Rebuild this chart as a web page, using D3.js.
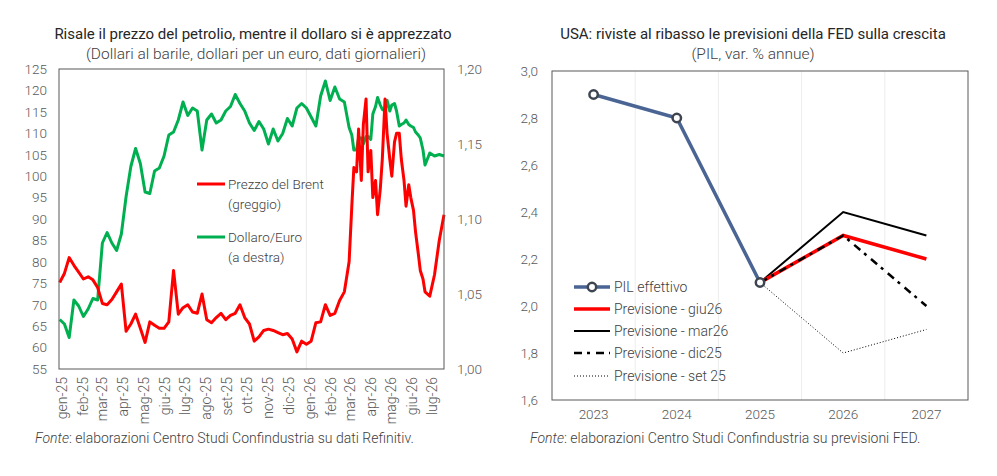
<!DOCTYPE html>
<html>
<head>
<meta charset="utf-8">
<script src="https://cdn.jsdelivr.net/npm/d3@7"></script>
<style>
  body { margin: 0; background: #fff; }
  svg text { font-family: Roboto, "Noto Sans", sans-serif; }
</style>
</head>
<body>
<svg id="chart" width="997" height="476"></svg>
<script>
// ---- left chart data ----
var dates = [
  "2025-01-02","2025-01-09","2025-01-16","2025-01-23","2025-01-30","2025-02-06","2025-02-13","2025-02-20","2025-02-27",
  "2025-03-06","2025-03-13","2025-03-20","2025-03-27","2025-04-03","2025-04-10","2025-04-17","2025-04-24",
  "2025-05-01","2025-05-08","2025-05-15","2025-05-22","2025-05-29","2025-06-05","2025-06-12","2025-06-19","2025-06-26",
  "2025-07-03","2025-07-10","2025-07-17","2025-07-24","2025-07-31","2025-08-07","2025-08-14","2025-08-21","2025-08-28",
  "2025-09-04","2025-09-11","2025-09-18","2025-09-25","2025-10-02","2025-10-09","2025-10-16","2025-10-23","2025-10-30",
  "2025-11-06","2025-11-13","2025-11-20","2025-11-27","2025-12-04","2025-12-11","2025-12-18","2025-12-25",
  "2026-01-01","2026-01-08","2026-01-15","2026-01-22","2026-01-29","2026-02-05","2026-02-12","2026-02-19","2026-02-26",
  "2026-03-05","2026-03-09","2026-03-12","2026-03-16","2026-03-19","2026-03-23","2026-03-26","2026-03-30",
  "2026-04-02","2026-04-06","2026-04-09","2026-04-13","2026-04-16","2026-04-20","2026-04-23","2026-04-27","2026-04-30",
  "2026-05-04","2026-05-07","2026-05-11","2026-05-14","2026-05-18","2026-05-21","2026-05-25","2026-05-28",
  "2026-06-01","2026-06-04","2026-06-08","2026-06-11","2026-06-15","2026-06-18","2026-06-22","2026-06-25",
  "2026-07-02","2026-07-09","2026-07-16","2026-07-23"
];
var brent = [
  75.2,77.3,81.0,79.2,77.6,76.0,76.5,75.8,74.0,
  70.3,70.0,71.2,73.0,74.8,63.8,65.5,67.8,
  64.5,61.2,66.0,65.2,64.5,64.5,66.0,78.0,67.8,
  69.3,70.0,68.3,68.0,72.5,66.5,65.8,67.0,68.0,
  66.5,67.5,68.0,70.0,67.0,65.5,61.5,62.5,64.0,
  64.3,64.0,63.5,63.0,63.3,62.0,59.0,61.5,
  60.8,61.5,65.8,66.0,70.0,67.5,68.0,71.0,73.0,
  80,93,102,101,111,99,112,118,
  101,106,95,99,91,97,104,118,110,
  104,100,108,110,110,104,99,93,
  98,95,92,87,82,78,76,73,
  72,77,85,91
];
var dollaroEuro = [
  1.033,1.030,1.021,1.046,1.042,1.035,1.040,1.047,1.046,
  1.084,1.091,1.084,1.079,1.090,1.115,1.135,1.147,
  1.137,1.118,1.117,1.132,1.134,1.142,1.156,1.158,1.166,
  1.178,1.169,1.174,1.172,1.146,1.166,1.170,1.164,1.166,
  1.172,1.175,1.183,1.177,1.172,1.164,1.159,1.165,1.160,
  1.150,1.160,1.152,1.157,1.167,1.162,1.174,1.177,
  1.174,1.168,1.162,1.182,1.192,1.179,1.188,1.180,1.178,
  1.161,1.156,1.146,1.146,1.154,1.154,1.150,1.155,
  1.155,1.153,1.170,1.175,1.181,1.176,1.173,1.172,1.179,
  1.172,1.176,1.177,1.172,1.162,1.163,1.164,1.166,
  1.163,1.162,1.161,1.158,1.156,1.154,1.146,1.136,
  1.144,1.142,1.143,1.142
];
var mesi = ["gen","feb","mar","apr","mag","giu","lug","ago","set","ott","nov","dic"];

// ---- right chart data ----
var anni = ["2023","2024","2025","2026","2027"];
var pilEffettivo = [2.9, 2.8, 2.1, null, null];
var prevGiu26 = [null, null, 2.1, 2.3, 2.2];
var prevMar26 = [null, null, 2.1, 2.4, 2.3];
var prevDic25 = [null, null, 2.1, 2.3, 2.0];
var prevSet25 = [null, null, 2.1, 1.8, 1.9];

var grey = "#595959", dark = "#404040";
var svg = d3.select("#chart");
svg.append("rect").attr("width", 997).attr("height", 476).attr("fill", "#fff");

var parse = d3.timeParse("%Y-%m-%d");
var giorni = dates.map(parse);

// ================= LEFT CHART =================
var L = {left: 59, right: 444, top: 69, bottom: 369};

var x = d3.scaleTime()
  .domain([new Date(2025, 0, 1), new Date(2026, 6, 23)])
  .range([L.left, L.right]);
var y = d3.scaleLinear().domain([55, 125]).range([L.bottom, L.top]);
var y2 = d3.scaleLinear().domain([1.0, 1.2]).range([L.bottom, L.top]);

svg.append("text").attr("x", 253).attr("y", 39).attr("text-anchor", "middle")
  .attr("font-size", 15).attr("fill", "#262626")
  .text("Risale il prezzo del petrolio, mentre il dollaro si è apprezzato");
svg.append("text").attr("x", 256).attr("y", 59).attr("text-anchor", "middle")
  .attr("font-size", 15.5).attr("font-weight", 300).attr("fill", dark)
  .text("(Dollari al barile, dollari per un euro, dati giornalieri)");

// faint line at the year change
svg.append("line")
  .attr("x1", x(new Date(2026, 0, 1))).attr("x2", x(new Date(2026, 0, 1)))
  .attr("y1", L.top).attr("y2", L.bottom)
  .attr("stroke", "#ebebeb").attr("stroke-width", 1);

var axL = svg.append("g").attr("transform", "translate(" + L.left + ",0)")
  .call(d3.axisLeft(y).tickValues(d3.range(55, 126, 5)).tickSize(0).tickPadding(12));
var axR = svg.append("g").attr("transform", "translate(" + L.right + ",0)")
  .call(d3.axisRight(y2).tickValues([1.0, 1.05, 1.1, 1.15, 1.2]).tickSize(0).tickPadding(13)
    .tickFormat(function(d) { return d3.format(".2f")(d).replace(".", ","); }));
var axB = svg.append("g").attr("transform", "translate(0," + L.bottom + ")")
  .call(d3.axisBottom(x).ticks(d3.timeMonth.every(1)).tickSize(0)
    .tickFormat(function(d) { return mesi[d.getMonth()] + "-" + String(d.getFullYear()).slice(2); }));

[axL, axR, axB].forEach(function(a) {
  a.select(".domain").remove();
  a.selectAll("text").attr("font-size", 13.5).attr("font-weight", 300).attr("fill", grey)
    .attr("font-family", "Roboto, sans-serif");
});
axB.selectAll("text")
  .attr("font-size", 14)
  .attr("transform", "rotate(-90)")
  .attr("x", -8).attr("y", 3).attr("dy", "0.35em")
  .style("text-anchor", "end");

var lineUsd = d3.line()
  .x(function(d, i) { return x(giorni[i]); })
  .y(function(d) { return y2(d); });
var lineBrent = d3.line()
  .x(function(d, i) { return x(giorni[i]); })
  .y(function(d) { return y(d); });

svg.append("path").datum(dollaroEuro).attr("d", lineUsd)
  .attr("fill", "none").attr("stroke", "#00B050").attr("stroke-width", 3).attr("stroke-linejoin", "round");
svg.append("path").datum(brent).attr("d", lineBrent)
  .attr("fill", "none").attr("stroke", "#FF0000").attr("stroke-width", 3).attr("stroke-linejoin", "round");

svg.append("rect").attr("x", L.left).attr("y", L.top)
  .attr("width", L.right - L.left).attr("height", L.bottom - L.top)
  .attr("fill", "none").attr("stroke", grey).attr("stroke-width", 1);

// legend
var legL = [
  {c: "#FF0000", t1: "Prezzo del Brent", t2: "(greggio)", y: 184},
  {c: "#00B050", t1: "Dollaro/Euro", t2: "(a destra)", y: 237}
];
legL.forEach(function(l) {
  svg.append("line").attr("x1", 197).attr("x2", 225).attr("y1", l.y).attr("y2", l.y)
    .attr("stroke", l.c).attr("stroke-width", 3);
  svg.append("text").attr("x", 228).attr("y", l.y).attr("dy", "0.35em")
    .attr("font-size", 13.5).attr("font-weight", 300).attr("fill", dark).text(l.t1);
  svg.append("text").attr("x", 228).attr("y", l.y + 20).attr("dy", "0.35em")
    .attr("font-size", 13.5).attr("font-weight", 300).attr("fill", dark).text(l.t2);
});

var f1 = svg.append("text").attr("x", 35).attr("y", 443)
  .attr("font-size", 14).attr("font-weight", 300).attr("fill", dark);
f1.append("tspan").attr("font-style", "italic").text("Fonte");
f1.append("tspan").text(": elaborazioni Centro Studi Confindustria su dati Refinitiv.");

// ================= RIGHT CHART =================
var R = {left: 552, right: 968, top: 71, bottom: 400};
var xb = d3.scaleBand().domain(anni).range([R.left, R.right]).padding(0);
var yg = d3.scaleLinear().domain([1.6, 3.0]).range([R.bottom, R.top]);
var cx = function(i) { return xb(anni[i]) + xb.bandwidth() / 2; };

svg.append("text").attr("x", 753).attr("y", 39).attr("text-anchor", "middle")
  .attr("font-size", 15).attr("fill", "#262626")
  .text("USA: riviste al ribasso le previsioni della FED sulla crescita");
svg.append("text").attr("x", 753).attr("y", 59).attr("text-anchor", "middle")
  .attr("font-size", 15.5).attr("font-weight", 300).attr("fill", dark)
  .text("(PIL, var. % annue)");

svg.append("g").selectAll("line").data(anni.slice(1)).enter().append("line")
  .attr("x1", function(d) { return xb(d); }).attr("x2", function(d) { return xb(d); })
  .attr("y1", R.top).attr("y2", R.bottom)
  .attr("stroke", "#ededed").attr("stroke-width", 1);

var ayG = svg.append("g").attr("transform", "translate(" + R.left + ",0)")
  .call(d3.axisLeft(yg).tickValues(d3.range(1.6, 3.01, 0.2)).tickSize(0).tickPadding(14)
    .tickFormat(function(d) { return d3.format(".1f")(d).replace(".", ","); }));
var axG = svg.append("g").attr("transform", "translate(0," + R.bottom + ")")
  .call(d3.axisBottom(xb).tickSize(0).tickPadding(9));
[ayG, axG].forEach(function(a) {
  a.select(".domain").remove();
  a.selectAll("text").attr("font-size", 13.5).attr("font-weight", 300).attr("fill", grey)
    .attr("font-family", "Roboto, sans-serif");
});

var lineG = d3.line()
  .defined(function(d) { return d != null; })
  .x(function(d, i) { return cx(i); })
  .y(function(d) { return yg(d); });

var serie = [
  {v: prevSet25, c: "#000", w: 1, dash: "1,2"},
  {v: prevMar26, c: "#000", w: 2, dash: null},
  {v: prevGiu26, c: "#FF0000", w: 3.5, dash: null},
  {v: prevDic25, c: "#000", w: 2.5, dash: "8,5,3,6"}
];
serie.forEach(function(s) {
  svg.append("path").datum(s.v).attr("d", lineG)
    .attr("fill", "none").attr("stroke", s.c).attr("stroke-width", s.w)
    .attr("stroke-dasharray", s.dash);
});
svg.append("path").datum(pilEffettivo).attr("d", lineG)
  .attr("fill", "none").attr("stroke", "#4A6594").attr("stroke-width", 3.5);
svg.append("g").selectAll("circle")
  .data(pilEffettivo.map(function(v, i) { return {v: v, i: i}; }).filter(function(d) { return d.v != null; }))
  .enter().append("circle")
  .attr("cx", function(d) { return cx(d.i); }).attr("cy", function(d) { return yg(d.v); })
  .attr("r", 4.2).attr("fill", "#fff").attr("stroke", "#3f4550").attr("stroke-width", 2.5);

svg.append("rect").attr("x", R.left).attr("y", R.top)
  .attr("width", R.right - R.left).attr("height", R.bottom - R.top)
  .attr("fill", "none").attr("stroke", grey).attr("stroke-width", 1);

// legend
var legR = [
  {c: "#4A6594", w: 3.5, dash: null, t: "PIL effettivo", y: 287, marker: true},
  {c: "#FF0000", w: 3.5, dash: null, t: "Previsione - giu26", y: 309},
  {c: "#000", w: 2, dash: null, t: "Previsione - mar26", y: 331},
  {c: "#000", w: 2.5, dash: "8,5,3,6", t: "Previsione - dic25", y: 353},
  {c: "#000", w: 1, dash: "1,2", t: "Previsione - set 25", y: 376}
];
legR.forEach(function(l) {
  svg.append("line").attr("x1", 574).attr("x2", 610).attr("y1", l.y).attr("y2", l.y)
    .attr("stroke", l.c).attr("stroke-width", l.w).attr("stroke-dasharray", l.dash);
  if (l.marker) {
    svg.append("circle").attr("cx", 592).attr("cy", l.y).attr("r", 4.2)
      .attr("fill", "#fff").attr("stroke", "#3f4550").attr("stroke-width", 2.5);
  }
  svg.append("text").attr("x", 614).attr("y", l.y).attr("dy", "0.35em")
    .attr("font-size", 14).attr("font-weight", 300).attr("fill", dark).text(l.t);
});

var f2 = svg.append("text").attr("x", 530).attr("y", 443)
  .attr("font-size", 14).attr("font-weight", 300).attr("fill", dark);
f2.append("tspan").attr("font-style", "italic").text("Fonte");
f2.append("tspan").text(": elaborazioni Centro Studi Confindustria su previsioni FED.");
</script>
</body>
</html>
